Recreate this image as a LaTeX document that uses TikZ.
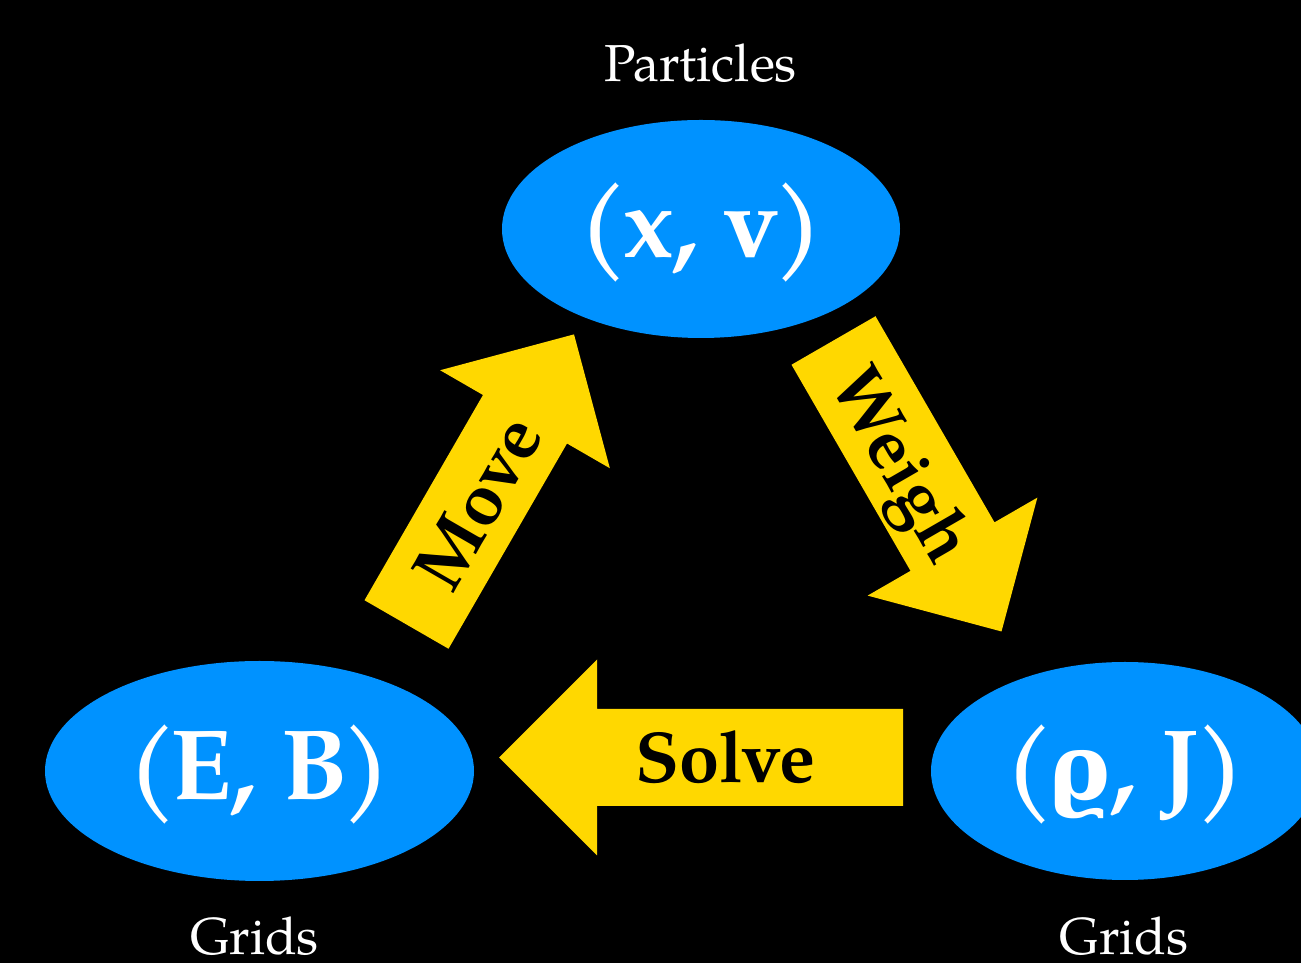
\documentclass[tikz,border=0pt]{standalone}
\usepackage{fontspec}
\setmainfont{TeX Gyre Pagella}
\newfontfamily\rhofont[Scale=0.92]{DejaVu Serif}
\usetikzlibrary{shapes.geometric}
\definecolor{ellblue}{RGB}{0,146,255}
\definecolor{arrowyellow}{RGB}{255,216,0}
\begin{document}
\begin{tikzpicture}[x=1pt,y=1pt,
  bubble/.style={ellipse, fill=ellblue, draw=none, inner sep=0pt, text=white,
    font=\fontsize{100}{100}\selectfont\bfseries, text height=58pt, text depth=0pt},
  arrowlabel/.style={text=black, font=\fontsize{72}{72}\selectfont\bfseries,
    inner sep=0pt, text height=50pt, text depth=0pt},
  caption/.style={text=white, font=\fontsize{52}{52}\selectfont, anchor=base, inner sep=0pt},
  fatarrow/.style={fill=arrowyellow, draw=none}]
\fill[black] (0,0) rectangle (1301,963);
\useasboundingbox (0,0) rectangle (1301,963);
\clip (0,0) rectangle (1301,963);

% ellipses
\node[bubble, minimum width=398pt, minimum height=218pt] (particles) at (701,734) {(\kern-4pt x, v\kern-4pt)};
\node[bubble, minimum width=429pt, minimum height=220pt] (fields) at (259.5,192) {(\kern-6pt E, B\kern-6pt)};
\node[bubble, minimum width=388pt, minimum height=218pt] (sources) at (1125,192) {(\kern-4pt{\rhofont ϱ}, J\kern-4pt)};

% captions
\node[caption] (ptitle) at (700.5,881) {Particles};
\node[caption] (gleft) at (254.5,8) {Grids};
\node[caption] (gright) at (1124,8) {Grids};

% Move arrow
\begin{scope}[shift={(406.5,338.5)}, rotate=60]
\fill[fatarrow] (0,-48.5) -- (237,-48.5) -- (237,-98) -- (335,0) -- (237,98) -- (237,48.5) -- (0,48.5) -- cycle;
\end{scope}
\node[arrowlabel, rotate=60] (move) at (477,460.6) {Move};

% Weigh arrow
\begin{scope}[shift={(833.5,622.5)}, rotate=-60]
\fill[fatarrow] (0,-48.5) -- (238,-48.5) -- (238,-98) -- (336,0) -- (238,98) -- (238,48.5) -- (0,48.5) -- cycle;
\end{scope}
\node[arrowlabel, rotate=-60] (weigh) at (904.5,499.5) {Weigh};

% Solve arrow
\begin{scope}[shift={(903,205.5)}, rotate=180]
\fill[fatarrow] (0,-48.5) -- (306,-48.5) -- (306,-98) -- (404,0) -- (306,98) -- (306,48.5) -- (0,48.5) -- cycle;
\end{scope}
\node[arrowlabel] (solve) at (725.5,205.5) {Solve};
\end{tikzpicture}
\end{document}
